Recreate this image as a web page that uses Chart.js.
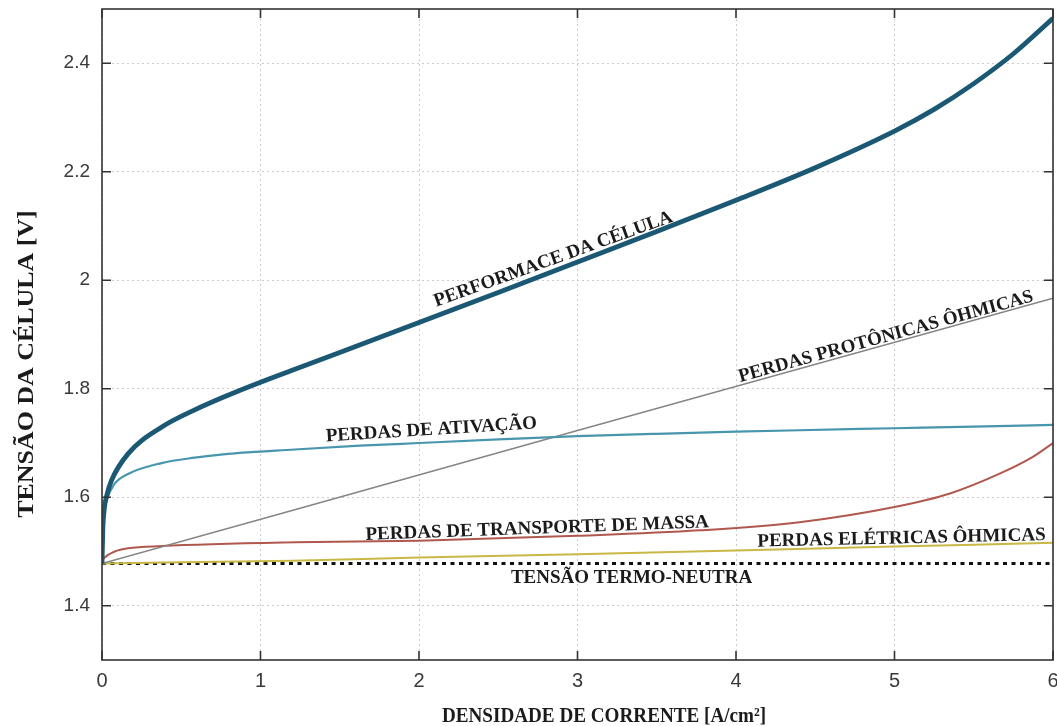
<!DOCTYPE html>
<html>
<head>
<meta charset="utf-8">
<script src="https://cdn.jsdelivr.net/npm/chart.js@4.4.1/dist/chart.umd.min.js"></script>
<style>
  html, body { margin: 0; padding: 0; background: #ffffff; }
  #wrap { width: 1057px; height: 726px; }
  canvas { display: block; }
</style>
</head>
<body>
<div id="wrap"><canvas id="chart" width="1057" height="726"></canvas></div>
<script>
// Polarization curve of an electrolysis cell and the contribution of each loss.
// Current density in A/cm², cell voltage in V.

const xTicks = [0, 1, 2, 3, 4, 5, 6];
const yTicks = [1.4, 1.6, 1.8, 2.0, 2.2, 2.4];

// Cell performance (total voltage)
const perfX = [0, 0.005, 0.015, 0.03, 0.06, 0.164, 0.375, 0.585, 0.795, 1.0, 1.2, 1.5, 2, 2.5, 3, 3.5, 4, 4.5, 5, 5.25, 5.5, 5.75, 6];
const perfV = [1.478, 1.540, 1.580, 1.603, 1.631, 1.680, 1.729, 1.761, 1.788, 1.812, 1.834, 1.867, 1.922, 1.9775, 2.0335, 2.090, 2.1475, 2.2075, 2.275, 2.315, 2.3625, 2.4175, 2.483];

// Activation losses
const actX = [0, 0.004, 0.012, 0.03, 0.08, 0.164, 0.375, 0.585, 0.795, 1.216, 1.626, 2, 2.5, 3, 3.5, 4, 4.4, 5, 5.5, 6];
const actV = [1.478, 1.535, 1.568, 1.595, 1.625, 1.643, 1.663, 1.673, 1.680, 1.688, 1.695, 1.700, 1.7065, 1.7125, 1.717, 1.7208, 1.7235, 1.7272, 1.7303, 1.7333];

// Protonic ohmic losses
const ohmX = [0, 1.216, 3, 6];
const ohmV = [1.478, 1.577, 1.723, 1.967];

// Mass transport losses
const mtX = [0, 0.005, 0.017, 0.08, 0.164, 0.375, 1.216, 2, 3, 3.77, 4.4, 5, 5.35, 5.66, 5.87, 6];
const mtV = [1.478, 1.484, 1.489, 1.500, 1.506, 1.510, 1.517, 1.520, 1.529, 1.539, 1.554, 1.582, 1.607, 1.643, 1.674, 1.700];

// Electric ohmic losses
const elX = [0, 1.2, 2, 3, 4, 5, 6];
const elV = [1.478, 1.483, 1.489, 1.495, 1.502, 1.509, 1.516];

// Thermoneutral voltage
const tnX = [0, 6];
const tnV = [1.478, 1.478];

const pts = (xs, vs) => xs.map((x, i) => ({ x, y: vs[i] }));

// In-plot labels, anchored on the baseline centre (data units) and rotated along each curve
const curveLabels = [
  { text: 'PERFORMACE DA CÉLULA',          x: 2.858, y: 2.030,  angle: -19.8 },
  { text: 'PERDAS PROTÔNICAS ÔHMICAS',     x: 4.954, y: 1.887,  angle: -15.4 },
  { text: 'PERDAS DE ATIVAÇÃO',            x: 2.080, y: 1.715,  angle: -3.6 },
  { text: 'PERDAS DE TRANSPORTE DE MASSA', x: 2.747, y: 1.533,  angle: -2.1 },
  { text: 'PERDAS ELÉTRICAS ÔHMICAS',      x: 5.045, y: 1.515,  angle: -1.3 },
  { text: 'TENSÃO TERMO-NEUTRA',           x: 3.341, y: 1.4425, angle: 0 }
];

const SERIF = "'Liberation Serif', 'Times New Roman', serif";
const SANS = "'Liberation Sans', Arial, Helvetica, sans-serif";

function drawText(ctx, text, px, py, angleDeg, font, sx, sy) {
  ctx.save();
  ctx.translate(px, py);
  ctx.rotate(angleDeg * Math.PI / 180);
  ctx.scale(sx || 1, sy || 1);
  ctx.font = font;
  ctx.textAlign = 'center';
  ctx.textBaseline = 'alphabetic';
  ctx.fillStyle = '#1b1b1b';
  ctx.fillText(text, 0, 0);
  ctx.restore();
}

// Boxed frame with inward tick marks, curve labels and axis titles
const decorations = {
  id: 'decorations',
  afterDatasetsDraw(chart) {
    const { ctx, chartArea: a, scales: { x, y } } = chart;
    ctx.save();
    ctx.strokeStyle = '#333333';
    ctx.lineWidth = 1.6;
    ctx.strokeRect(a.left, a.top, a.right - a.left, a.bottom - a.top);
    ctx.beginPath();
    xTicks.forEach(v => {
      const px = x.getPixelForValue(v);
      ctx.moveTo(px, a.bottom); ctx.lineTo(px, a.bottom - 9);
      ctx.moveTo(px, a.top);    ctx.lineTo(px, a.top + 9);
    });
    yTicks.forEach(v => {
      const py = y.getPixelForValue(v);
      ctx.moveTo(a.left, py);  ctx.lineTo(a.left + 9, py);
      ctx.moveTo(a.right, py); ctx.lineTo(a.right - 9, py);
    });
    ctx.stroke();
    ctx.restore();

    curveLabels.forEach(l => {
      drawText(ctx, l.text, x.getPixelForValue(l.x), y.getPixelForValue(l.y), l.angle, 'bold 19px ' + SERIF);
    });
  },
  afterDraw(chart) {
    const { ctx } = chart;
    drawText(ctx, 'DENSIDADE DE CORRENTE [A/cm²]', 604, 722, 0, 'bold 22px ' + SERIF, 0.87, 1);
    drawText(ctx, 'TENSÃO DA CÉLULA [V]', 33, 364, -90, 'bold 24px ' + SERIF, 1.08, 1);
  }
};

const line = (data, color, width, extra) => Object.assign({
  data,
  borderColor: color,
  backgroundColor: color,
  borderWidth: width,
  pointRadius: 0,
  fill: false,
  cubicInterpolationMode: 'monotone'
}, extra || {});

// Let the end tick labels overflow the plot box instead of shrinking it
const noEdgePadding = s => {
  s.paddingLeft = 0; s.paddingRight = 0; s.paddingTop = 0; s.paddingBottom = 0;
};

new Chart(document.getElementById('chart'), {
  type: 'line',
  data: {
    datasets: [
      line(pts(perfX, perfV), '#1b5873', 4.8, { label: 'Performance da célula' }),
      line(pts(actX, actV), '#4796ad', 2.2, { label: 'Perdas de ativação' }),
      line(pts(ohmX, ohmV), '#858585', 1.5, { label: 'Perdas protônicas ôhmicas', cubicInterpolationMode: 'default', tension: 0 }),
      line(pts(mtX, mtV), '#b0584e', 2.0, { label: 'Perdas de transporte de massa' }),
      line(pts(elX, elV), '#c9b845', 2.0, { label: 'Perdas elétricas ôhmicas' }),
      line(pts(tnX, tnV), '#111111', 3.0, { label: 'Tensão termo-neutra', borderDash: [4, 4.5], tension: 0, cubicInterpolationMode: 'default' })
    ]
  },
  options: {
    responsive: false,
    animation: false,
    devicePixelRatio: 1,
    layout: { padding: { top: 9, right: 4, left: 0, bottom: 0 } },
    plugins: { legend: { display: false }, tooltip: { enabled: false } },
    scales: {
      x: {
        type: 'linear',
        min: 0,
        max: 6,
        afterBuildTicks: s => { s.ticks = xTicks.map(v => ({ value: v })); },
        afterFit: s => { s.height = 66; noEdgePadding(s); },
        grid: { color: '#cccccc', lineWidth: 1, drawTicks: false },
        border: { display: false, dash: [2, 3] },
        ticks: { padding: 9, color: '#3a3a3a', font: { family: SANS, size: 20 }, callback: v => String(Number(v.toFixed(1))) }
      },
      y: {
        type: 'linear',
        min: 1.3,
        max: 2.5,
        afterBuildTicks: s => { s.ticks = yTicks.map(v => ({ value: v })); },
        afterFit: s => { s.width = 102; noEdgePadding(s); },
        grid: { color: '#cccccc', lineWidth: 1, drawTicks: false },
        border: { display: false, dash: [2, 3] },
        ticks: { padding: 12, color: '#3a3a3a', font: { family: SANS, size: 19 }, callback: v => String(Number(v.toFixed(1))) }
      }
    }
  },
  plugins: [decorations]
});
</script>
</body>
</html>
